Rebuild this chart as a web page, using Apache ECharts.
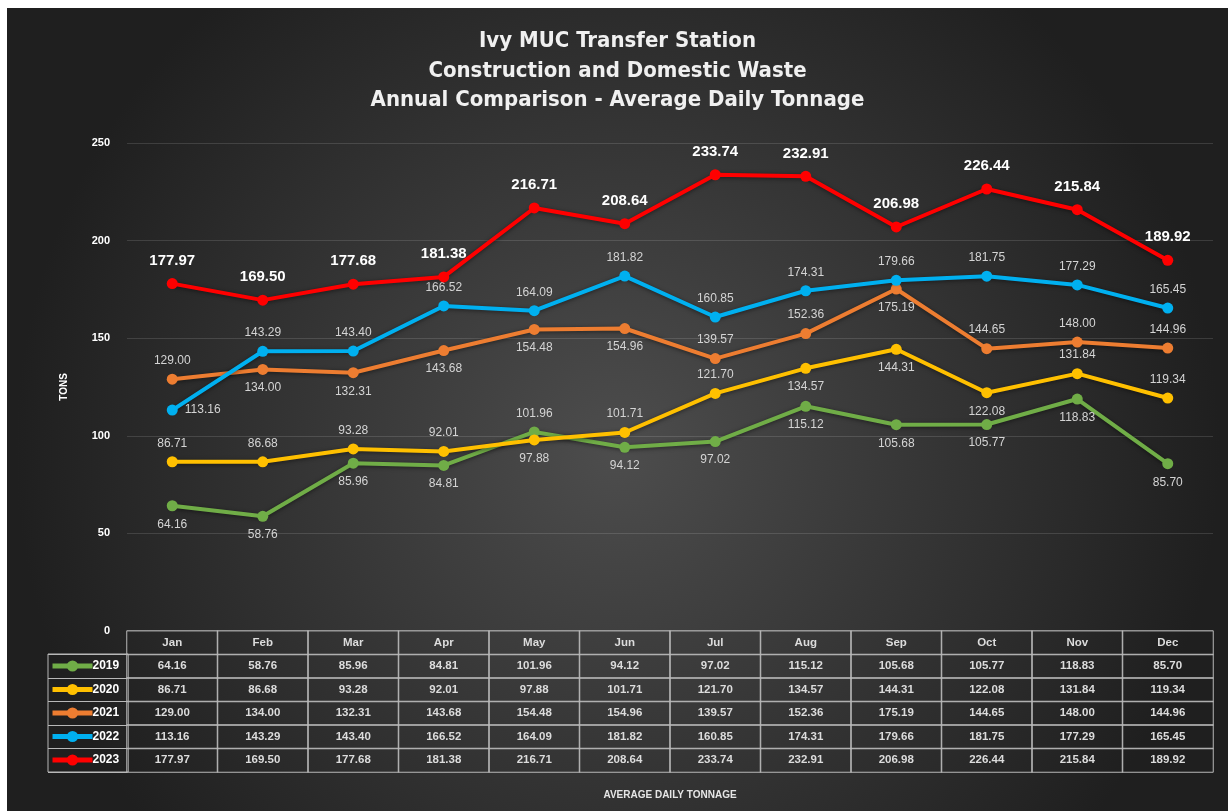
<!DOCTYPE html>
<html>
<head>
<meta charset="utf-8">
<script src="https://cdn.jsdelivr.net/npm/echarts@6/dist/echarts.min.js"></script>
<style>
    html, body { margin: 0; padding: 0; background: #fff; }
    #chart { position: absolute; left: 7px; top: 8px; width: 1221px; height: 803px; }
</style>
</head>
<body>
<div id="chart"></div>
<script>
var months = ['Jan', 'Feb', 'Mar', 'Apr', 'May', 'Jun', 'Jul', 'Aug', 'Sep', 'Oct', 'Nov', 'Dec'];
var years = ['2019', '2020', '2021', '2022', '2023'];
var tons2019 = [64.16, 58.76, 85.96, 84.81, 101.96, 94.12, 97.02, 115.12, 105.68, 105.77, 118.83, 85.70];
var tons2020 = [86.71, 86.68, 93.28, 92.01, 97.88, 101.71, 121.70, 134.57, 144.31, 122.08, 131.84, 119.34];
var tons2021 = [129.00, 134.00, 132.31, 143.68, 154.48, 154.96, 139.57, 152.36, 175.19, 144.65, 148.00, 144.96];
var tons2022 = [113.16, 143.29, 143.40, 166.52, 164.09, 181.82, 160.85, 174.31, 179.66, 181.75, 177.29, 165.45];
var tons2023 = [177.97, 169.50, 177.68, 181.38, 216.71, 208.64, 233.74, 232.91, 206.98, 226.44, 215.84, 189.92];
var yTicks = { min: 0, max: 250, step: 50 };

var allTons = [tons2019, tons2020, tons2021, tons2022, tons2023];
var colors = ['#70ad47', '#ffc000', '#ed7d31', '#00b0f0', '#ff0000'];

// where each point's label sits (like the excel chart)
var T = 'top', B = 'bottom', R = 'right';
var labelPos = [
    [B, B, B, B, T, B, B, B, B, B, B, B],
    [T, T, T, T, B, T, T, B, B, B, T, T],
    [T, B, B, B, B, B, T, T, B, T, T, T],
    [R, T, T, T, T, T, T, T, T, T, T, T],
    [T, T, T, T, T, T, T, T, T, T, T, T]
];

var font = '"Liberation Sans", Arial, sans-serif';
var chart = echarts.init(document.getElementById('chart'));

var series = [];
allTons.forEach(function (vals, k) {
    var isLast = k === allTons.length - 1;
    series.push({
        name: years[k],
        type: 'line',
        xAxisIndex: 0,
        yAxisIndex: 0,
        symbol: 'circle',
        symbolSize: 11,
        color: colors[k],
        lineStyle: { width: 4, shadowColor: 'rgba(0,0,0,0.5)', shadowBlur: 4, shadowOffsetY: 1 },
        itemStyle: { color: colors[k] },
        z: 2 + k,
        label: {
            show: true,
            distance: isLast ? 10 : 7,
            color: isLast ? '#ffffff' : '#d4d4d4',
            fontFamily: font,
            fontWeight: isLast ? 'bold' : 'normal',
            fontSize: isLast ? 15 : 12,
            formatter: function (p) { return p.value.toFixed(2); }
        },
        data: vals.map(function (v, i) {
            return { value: v, label: { position: labelPos[k][i] } };
        })
    });
});

// data table under the chart
var tableData = [];
months.forEach(function (m, i) {
    tableData.push([i, 0, 0]);
});
allTons.forEach(function (vals, k) {
    vals.forEach(function (v, i) {
        tableData.push([i, k + 1, v]);
    });
});
series.push({
    name: 'table',
    type: 'heatmap',
    xAxisIndex: 1,
    yAxisIndex: 1,
    silent: true,
    itemStyle: { color: 'rgba(0,0,0,0)', borderColor: '#b8b8b8', borderWidth: 1 },
    label: {
        show: true,
        color: '#dcdcdc',
        fontFamily: font,
        fontSize: 11.5,
        fontWeight: 'bold',
        formatter: function (p) {
            if (p.value[1] === 0) return months[p.value[0]];
            return p.value[2].toFixed(2);
        }
    },
    emphasis: { disabled: true },
    data: tableData
});

chart.setOption({
    backgroundColor: {
        type: 'radial', x: 0.5, y: 0.55, r: 0.75,
        colorStops: [
            { offset: 0, color: '#4d4d4d' },
            { offset: 1, color: '#1f1f1f' }
        ]
    },
    animation: false,
    title: {
        text: 'Ivy MUC Transfer Station\nConstruction and Domestic Waste\nAnnual Comparison - Average Daily Tonnage',
        left: 'center',
        top: 14,
        textStyle: {
            color: '#f0f0f0',
            fontFamily: '"DejaVu Sans Condensed", "Liberation Sans Narrow", sans-serif',
            fontWeight: 'bold',
            fontSize: 22,
            lineHeight: 29.5
        }
    },
    legend: {
        data: years,
        orient: 'vertical',
        left: 41,
        top: 646,
        padding: [5, 9, 5, 2],
        itemGap: 9.5,
        itemWidth: 40,
        itemHeight: 14,
        borderColor: '#b8b8b8',
        borderWidth: 1,
        borderRadius: 0,
        lineStyle: { width: 5 },
        textStyle: { color: '#ffffff', fontFamily: font, fontWeight: 'bold', fontSize: 12, lineHeight: 14, padding: [0, 0, 0, -5] }
    },
    grid: [
        { left: 120, right: 15, top: 135, bottom: 180 },
        { left: 120, right: 15, top: 623, height: 141 }
    ],
    xAxis: [
        {
            type: 'category', gridIndex: 0, data: months,
            axisLabel: { show: false }, axisLine: { show: false }, axisTick: { show: false }
        },
        {
            type: 'category', gridIndex: 1, data: months,
            axisLabel: { show: false }, axisLine: { show: false }, axisTick: { show: false },
            name: 'AVERAGE DAILY TONNAGE', nameLocation: 'middle', nameGap: 18,
            nameTextStyle: { color: '#e6e6e6', fontFamily: font, fontWeight: 'bold', fontSize: 10 }
        }
    ],
    yAxis: [
        {
            type: 'value', gridIndex: 0,
            min: yTicks.min, max: yTicks.max, interval: yTicks.step,
            axisLabel: { color: '#ffffff', fontFamily: font, fontWeight: 'bold', fontSize: 11, margin: 17 },
            axisLine: { show: false }, axisTick: { show: false },
            splitLine: { lineStyle: { color: 'rgba(255,255,255,0.13)', width: 1 } },
            name: 'TONS', nameLocation: 'middle', nameGap: 58, nameRotate: 90,
            nameTextStyle: { color: '#ffffff', fontFamily: font, fontWeight: 'bold', fontSize: 10 }
        },
        {
            type: 'category', gridIndex: 1, data: [''].concat(years), inverse: true,
            axisLabel: { show: false }, axisLine: { show: false },
            axisTick: {
                show: true, length: 79,
                interval: function (i) { return i > 0; },
                lineStyle: { color: '#b8b8b8', width: 1 }
            },
            splitLine: { show: false }
        }
    ],
    series: series
});
</script>
</body>
</html>
